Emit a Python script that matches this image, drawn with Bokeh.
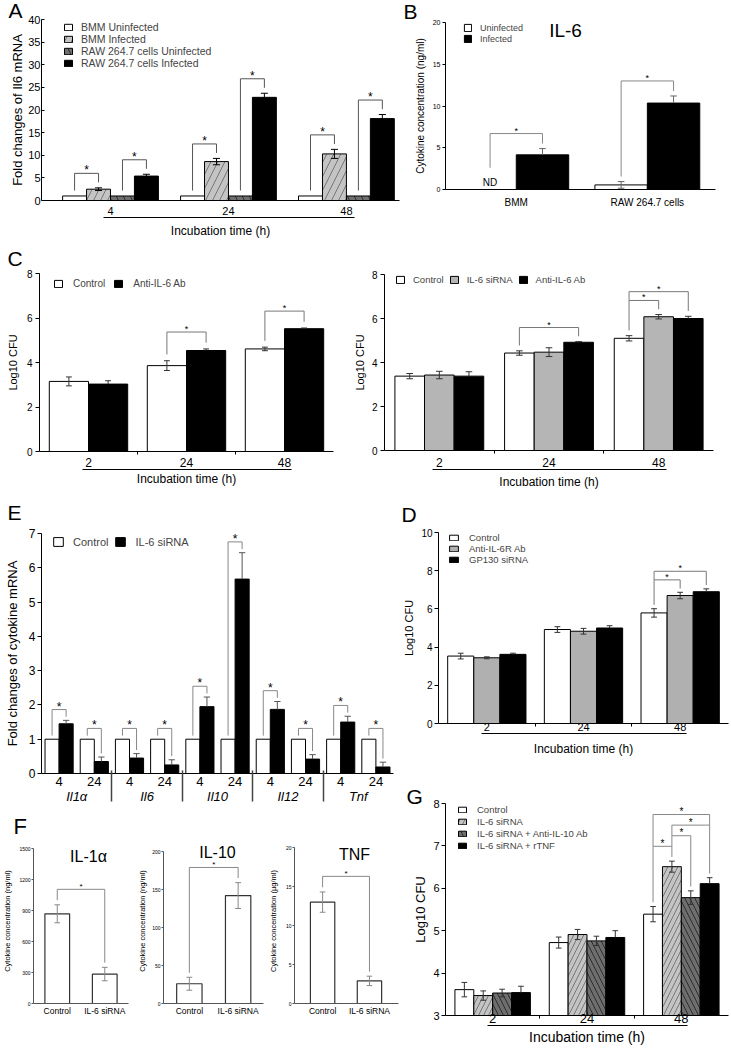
from bokeh.plotting import figure
from bokeh.models import Range1d, FixedTicker, LinearAxis, Legend, LegendItem, Label
from bokeh.layouts import row, column
from bokeh.embed import file_html
from bokeh.resources import INLINE
from bokeh.core.properties import value

FONT = "Liberation Sans"

# ---------------- data ----------------
# Panel A
A_times = ["4", "24", "48"]
A_labels = ["BMM Uninfected", "BMM Infected", "RAW 264.7 cells Uninfected", "RAW 264.7 cells Infected"]
A_bmm_uninf = [1.0, 1.0, 1.0]
A_bmm_inf = [2.5, 8.6, 10.3]
A_raw_uninf = [1.0, 1.0, 1.0]
A_raw_inf = [5.4, 22.8, 18.1]
A_bmm_uninf_err = [0, 0, 0]
A_bmm_inf_err = [0.3, 0.7, 1.0]
A_raw_uninf_err = [0, 0, 0]
A_raw_inf_err = [0.4, 0.9, 0.9]
A_sig = [(0, 0, 1), (0, 2, 3), (1, 0, 1), (1, 2, 3), (2, 0, 1), (2, 2, 3)]

# Panel B
B_cells = ["BMM", "RAW 264.7 cells"]
B_labels = ["Uninfected", "Infected"]
B_uninf = [0.0, 0.55]
B_inf = [4.15, 10.35]
B_uninf_err = [0, 0.4]
B_inf_err = [0.75, 0.85]
B_nd = [True, False]
B_sig = [(0, 0, 1), (1, 0, 1)]

# Panel C (left)
C_times = ["2", "24", "48"]
C1_labels = ["Control", "Anti-IL-6 Ab"]
C1_ctrl = [3.15, 3.86, 4.61]
C1_ab = [3.03, 4.54, 5.52]
C1_ctrl_err = [0.2, 0.22, 0.08]
C1_ab_err = [0.15, 0.07, 0.03]
C1_sig = [(1, 0, 1), (2, 0, 1)]

# Panel C (right)
C2_labels = ["Control", "IL-6 siRNA", "Anti-IL-6 Ab"]
C2_ctrl = [3.38, 4.43, 5.10]
C2_sirna = [3.43, 4.47, 6.08]
C2_ab = [3.38, 4.92, 6.00]
C2_ctrl_err = [0.12, 0.10, 0.12]
C2_sirna_err = [0.17, 0.20, 0.10]
C2_ab_err = [0.20, 0.03, 0.10]
C2_sig = [(1, 0, 2), (2, 0, 1), (2, 0, 2)]

# Panel E
E_genes = ["Il1α", "Il6", "Il10", "Il12", "Tnf"]
E_times = ["4", "24"]
E_labels = ["Control", "IL-6 siRNA"]
E_ctrl = [1.0, 1.0, 1.0, 1.0, 1.0, 1.0, 1.0, 1.0, 1.0, 1.0]
E_sirna = [1.45, 0.35, 0.45, 0.25, 1.95, 5.67, 1.87, 0.42, 1.50, 0.19]
E_ctrl_err = [0, 0, 0, 0, 0, 0, 0, 0, 0, 0]
E_sirna_err = [0.10, 0.13, 0.13, 0.15, 0.28, 0.77, 0.23, 0.13, 0.17, 0.14]
E_sig = [(k, 0, 1) for k in range(10)]

# Panel D
D_labels = ["Control", "Anti-IL-6R Ab", "GP130 siRNA"]
D_ctrl = [3.53, 4.92, 5.79]
D_ab = [3.44, 4.83, 6.70]
D_gp = [3.62, 5.00, 6.90]
D_ctrl_err = [0.15, 0.15, 0.22]
D_ab_err = [0.05, 0.15, 0.17]
D_gp_err = [0.06, 0.12, 0.15]
D_sig = [(2, 0, 1), (2, 0, 2)]

# Panel F
F_groups = ["Control", "IL-6 siRNA"]
F1_vals = [868, 285]
F1_err = [87, 65]
F2_vals = [26, 142]
F2_err = [8.5, 17]
F3_vals = [13.0, 2.9]
F3_err = [1.3, 0.6]
F_sig = [(0, 0, 1)]

# Panel G
G_labels = ["Control", "IL-6 siRNA", "IL-6 siRNA + Anti-IL-10 Ab", "IL-6 siRNA + rTNF"]
G_ctrl = [3.61, 4.72, 5.39]
G_sirna = [3.47, 4.91, 6.51]
G_ab10 = [3.53, 4.76, 5.78]
G_rtnf = [3.54, 4.84, 6.11]
G_ctrl_err = [0.17, 0.13, 0.18]
G_sirna_err = [0.11, 0.12, 0.13]
G_ab10_err = [0.09, 0.11, 0.16]
G_rtnf_err = [0.15, 0.16, 0.14]
G_sig = [(2, 0, 1), (2, 1, 2), (2, 1, 3), (2, 0, 3)]


# ---------------- helpers ----------------
def make_fig(w, h, L, R, T, B, xr, yr):
    p = figure(width=w, height=h, x_range=Range1d(*xr), y_range=Range1d(*yr),
               output_backend="svg", toolbar_location=None,
               min_border_left=L, min_border_right=R, min_border_top=T, min_border_bottom=B)
    try:
        p.frame_align = False
    except Exception:
        pass
    p.xgrid.visible = False
    p.ygrid.visible = False
    p.outline_line_color = None
    p.border_fill_color = "white"
    p.background_fill_color = "white"
    return p


def style_y(p, ticks, tick_px, label, label_px, tick_out=4, tick_in=0, standoff=2,
            lab_standoff=4, color="black"):
    ax = p.yaxis[0]
    ax.ticker = FixedTicker(ticks=ticks)
    ax.major_tick_out = tick_out
    ax.major_tick_in = tick_in
    ax.minor_tick_out = 0
    ax.minor_tick_in = 0
    ax.major_label_text_font = FONT
    ax.major_label_text_font_size = f"{tick_px}px"
    ax.major_label_text_color = "black"
    ax.major_label_standoff = standoff
    ax.axis_label = label
    ax.axis_label_text_font = FONT
    ax.axis_label_text_font_size = f"{label_px}px"
    ax.axis_label_text_font_style = "normal"
    ax.axis_label_text_color = "black"
    ax.axis_label_standoff = lab_standoff
    ax.axis_line_color = color
    ax.major_tick_line_color = color


def style_x(p, ticks, labels, tick_px, standoff=3, minor=None, minor_out=0,
            minor_color="black", color="black"):
    ax = p.xaxis[0]
    ax.ticker = FixedTicker(ticks=ticks, minor_ticks=minor or [])
    ax.major_label_overrides = {t: l for t, l in zip(ticks, labels)}
    ax.major_tick_out = 0
    ax.major_tick_in = 0
    ax.minor_tick_out = minor_out
    ax.minor_tick_in = 0
    ax.minor_tick_line_color = minor_color
    ax.major_label_text_font = FONT
    ax.major_label_text_font_size = f"{tick_px}px"
    ax.major_label_text_color = "black"
    ax.major_label_standoff = standoff
    ax.axis_line_color = color


def add_title_axis(p, text, px, standoff, bounds=(-0.06, 2.07)):
    ax = LinearAxis(bounds=bounds, ticker=FixedTicker(ticks=[]), axis_label=text)
    ax.major_tick_out = 0
    ax.major_tick_in = 0
    ax.minor_tick_out = 0
    ax.minor_tick_in = 0
    ax.major_label_standoff = 0
    ax.axis_label_text_font = FONT
    ax.axis_label_text_font_size = f"{px}px"
    ax.axis_label_text_font_style = "normal"
    ax.axis_label_text_color = "black"
    ax.axis_label_standoff = standoff
    ax.axis_line_color = "black"
    p.add_layout(ax, "below")


def grouped_bars(p, series, errs, styles, w, bottom=0, err_color="black", cap=0.03, err_width=1):
    n = len(series)
    xpos, caps, rends = [], [], []
    ex0, ey0, ex1, ey1 = [], [], [], []
    for i, (vals, es, st) in enumerate(zip(series, errs, styles)):
        xs = [g + (i - (n - 1) / 2) * w for g in range(len(vals))]
        r = p.vbar(x=xs, top=vals, bottom=bottom, width=w, **st)
        rends.append(r)
        xpos.append(xs)
        caps.append([v + e for v, e in zip(vals, es)])
        lower = st.get("fill_color") != "black"
        for x, v, e in zip(xs, vals, es):
            if e > 0:
                ex0 += [x, x - cap]
                ex1 += [x, x + cap]
                ey0 += [v - e if lower else v, v + e]
                ey1 += [v + e, v + e]
                if lower:
                    ex0.append(x - cap)
                    ex1.append(x + cap)
                    ey0.append(v - e)
                    ey1.append(v - e)
    p.segment(x0=ex0, y0=ey0, x1=ex1, y1=ey1, line_color=err_color, line_width=err_width)
    return rends, xpos, caps


def brackets(p, sig, xpos, caps, yr, gap_f, pad_f, color="#777777", star_px=11, lw=1):
    span = yr[1] - yr[0]
    gap, pad = gap_f * span, pad_f * span
    occ = {}
    xs, ys, sx, sy = [], [], [], []
    for g, i, j in sig:
        for k in range(i, j + 1):
            occ.setdefault((g, k), caps[k][g] + pad)
        top = max(occ[(g, k)] for k in range(i, j + 1)) + gap
        x0, x1 = xpos[i][g], xpos[j][g]
        xs.append([x0, x0, x1, x1])
        ys.append([occ[(g, i)], top, top, occ[(g, j)]])
        sx.append((x0 + x1) / 2)
        sy.append(top)
        for k in range(i, j + 1):
            occ[(g, k)] = top
    p.multi_line(xs, ys, line_color=color, line_width=lw)
    p.text(x=sx, y=sy, text=["*"] * len(sx), text_align="center", text_baseline="middle",
           y_offset=-3, text_font=value(FONT), text_font_size=f"{star_px}px", text_color="black")


def add_legend(p, items, frame_h, x_off, y_off, orientation, font_px, gw, gh, lh, standoff, spacing=0):
    n_rows = len(items) if orientation == "vertical" else 1
    leg_h = n_rows * lh + (n_rows - 1) * spacing
    leg = Legend(items=[LegendItem(label=l, renderers=[r]) for l, r in items],
                 location=(x_off, frame_h - y_off - leg_h), orientation=orientation,
                 padding=0, margin=0, spacing=spacing, glyph_width=gw, glyph_height=gh,
                 label_height=lh, label_width=0, label_standoff=standoff,
                 label_text_font=FONT, label_text_font_size=f"{font_px}px",
                 label_text_baseline="middle", border_line_color=None, background_fill_alpha=0)
    p.add_layout(leg)


def text_label(p, text, x, y, px, align="left", baseline="top"):
    p.add_layout(Label(x=x, y=y, x_units="screen", y_units="screen", text=text,
                       text_font=FONT, text_font_size=f"{px}px",
                       text_baseline=baseline, text_align=align, text_color="black"))


def letter(p, text, offset, standoff, px=21):
    p.title.text = text
    p.title.align = "left"
    p.title.vertical_align = "middle"
    p.title.offset = offset
    p.title.standoff = standoff
    p.title.text_font = FONT
    p.title.text_font_size = f"{px}px"
    p.title.text_font_style = "normal"
    p.title.text_color = "black"


WHITE = dict(fill_color="white", line_color="black", line_width=1)
BLACK = dict(fill_color="black", line_color="black", line_width=1)


def gray(c):
    return dict(fill_color=c, line_color="black", line_width=1)


def hatch(c, pat, hc, scale):
    return dict(fill_color=c, line_color="black", line_width=1, hatch_pattern=pat,
                hatch_color=hc, hatch_weight=0.7, hatch_scale=scale)


# ---------------- Panel A ----------------
A_w, A_h, A_L, A_R, A_T, A_B = 402, 240, 41, 3, 19, 40
A_yr = (0, 40)
pA = make_fig(A_w, A_h, A_L, A_R, A_T, A_B, (-0.585, 2.45), A_yr)
style_y(pA, list(range(0, 41, 5)), 11, "Fold changes of Il6 mRNA", 13, tick_out=0, tick_in=3,
        standoff=1, lab_standoff=0)
style_x(pA, [0, 1, 2], A_times, 11, standoff=6)
add_title_axis(pA, "Incubation time (h)", 12, 6)
rA, xA, cA = grouped_bars(pA, [A_bmm_uninf, A_bmm_inf, A_raw_uninf, A_raw_inf],
                          [A_bmm_uninf_err, A_bmm_inf_err, A_raw_uninf_err, A_raw_inf_err],
                          [WHITE, hatch("#c4c4c4", "/", "#555555", 14),
                           hatch("#707070", "\\", "#111111", 14), BLACK],
                          0.203, cap=0.03)
brackets(pA, A_sig, xA, cA, A_yr, 0.05, 0.03, color="#555555", star_px=12)
add_legend(pA, list(zip(A_labels, rA)), A_h - A_T - A_B, 22, 2, "vertical", 10.5, 10, 8, 12, 8)
letter(pA, "A", -33, -6.5)

# ---------------- Panel B ----------------
B_w, B_h, B_L, B_R, B_T, B_B = 328, 240, 43, 15, 22, 51
B_yr = (0, 20)
pB = make_fig(B_w, B_h, B_L, B_R, B_T, B_B, (-0.54, 1.52), B_yr)
style_y(pB, [0, 5, 10, 15, 20], 7, "Cytokine concentration (ng/ml)", 10, tick_out=3,
        standoff=2, lab_standoff=4)
style_x(pB, [0, 1], B_cells, 10, standoff=7)
rB, xB, cB = grouped_bars(pB, [B_uninf, B_inf], [B_uninf_err, B_inf_err], [WHITE, BLACK],
                          0.4, err_color="#666666", cap=0.025)
for g, nd in enumerate(B_nd):
    if nd:
        cB[0][g] = 0.1 * (B_yr[1] - B_yr[0])
nd_x = [xB[0][g] for g, nd in enumerate(B_nd) if nd]
pB.text(x=nd_x, y=[0] * len(nd_x), text=["ND"] * len(nd_x), text_align="center",
        text_baseline="bottom", y_offset=-2, text_font=value(FONT), text_font_size="10px",
        text_color="black")
brackets(pB, B_sig, xB, cB, B_yr, 0.06, 0.03, color="#888888", star_px=9)
add_legend(pB, list(zip(B_labels, rB)), B_h - B_T - B_B, 18, 0, "vertical", 9, 9, 9, 11, 8)
text_label(pB, "IL-6", 120, 159, 19, align="center", baseline="middle")
letter(pB, "B", -42, -3.5)

# ---------------- Panel C left ----------------
C1_w, C1_h, C1_L, C1_R, C1_T, C1_B = 345, 251, 39, 12, 33, 40
C_yr = (0, 8)
pC1 = make_fig(C1_w, C1_h, C1_L, C1_R, C1_T, C1_B, (-0.5, 2.5), C_yr)
style_y(pC1, [0, 2, 4, 6, 8], 10, "Log10 CFU", 11, tick_out=4, standoff=3, lab_standoff=5)
style_x(pC1, [0, 1, 2], C_times, 12, standoff=3, minor=[0.5, 1.5], minor_out=3)
add_title_axis(pC1, "Incubation time (h)", 12, 2)
rC1, xC1, cC1 = grouped_bars(pC1, [C1_ctrl, C1_ab], [C1_ctrl_err, C1_ab_err], [WHITE, BLACK],
                             0.4, err_color="#333333", cap=0.03)
brackets(pC1, C1_sig, xC1, cC1, C_yr, 0.06, 0.035, color="#777777", star_px=9)
add_legend(pC1, list(zip(C1_labels, rC1)), C1_h - C1_T - C1_B, 14, 4, "horizontal", 10, 10, 9, 12, 10, 8)
letter(pC1, "C", -32, 5)

# ---------------- Panel C right ----------------
C2_w, C2_h, C2_L, C2_R, C2_T, C2_B = 385, 251, 39, 17, 34, 38
pC2 = make_fig(C2_w, C2_h, C2_L, C2_R, C2_T, C2_B, (-0.5, 2.5), C_yr)
style_y(pC2, [0, 2, 4, 6, 8], 10, "Log10 CFU", 11, tick_out=4, standoff=3, lab_standoff=3)
style_x(pC2, [0, 1, 2], C_times, 12, standoff=4, minor=[0.5, 1.5], minor_out=3)
add_title_axis(pC2, "Incubation time (h)", 12, 5)
rC2, xC2, cC2 = grouped_bars(pC2, [C2_ctrl, C2_sirna, C2_ab], [C2_ctrl_err, C2_sirna_err, C2_ab_err],
                             [WHITE, gray("#b5b5b5"), BLACK], 0.27, err_color="#333333", cap=0.03)
brackets(pC2, C2_sig, xC2, cC2, C_yr, 0.05, 0.03, color="#777777", star_px=9)
add_legend(pC2, list(zip(C2_labels, rC2)), C2_h - C2_T - C2_B, 11, 2, "horizontal", 9.5, 10, 9, 12, 8, 5)

# ---------------- Panel E ----------------
E_w, E_h, E_L, E_R, E_T, E_B = 400, 317, 41, 7, 42, 35
E_yr = (0, 7)
pE = make_fig(E_w, E_h, E_L, E_R, E_T, E_B, (-0.5, 9.5), E_yr)
style_y(pE, list(range(0, 8)), 12, "Fold changes of cytokine mRNA", 13, tick_out=4,
        standoff=2, lab_standoff=6)
E_ticks = list(range(10))
style_x(pE, E_ticks, [E_times[k % 2] for k in E_ticks], 13, standoff=3)
gene_pos = [0.5, 2.5, 4.5, 6.5, 8.5]
gene_ax = LinearAxis(ticker=FixedTicker(ticks=gene_pos, minor_ticks=[1.5, 3.5, 5.5, 7.5]))
gene_ax.major_label_overrides = {t: gname for t, gname in zip(gene_pos, E_genes)}
gene_ax.axis_line_color = None
gene_ax.major_tick_out = 0
gene_ax.major_tick_in = 0
gene_ax.minor_tick_out = 13
gene_ax.minor_tick_in = 18
gene_ax.minor_tick_line_color = "#444444"
gene_ax.minor_tick_line_width = 1.5
gene_ax.major_label_standoff = -13
gene_ax.major_label_text_font = FONT
gene_ax.major_label_text_font_size = "13px"
gene_ax.major_label_text_font_style = "italic"
gene_ax.major_label_text_color = "black"
pE.add_layout(gene_ax, "below")
rE, xE, cE = grouped_bars(pE, [E_ctrl, E_sirna], [E_ctrl_err, E_sirna_err], [WHITE, BLACK],
                          0.4, err_color="#555555", cap=0.09)
brackets(pE, E_sig, xE, cE, E_yr, 0.03, 0.015, color="#888888", star_px=12)
add_legend(pE, list(zip(E_labels, rE)), E_h - E_T - E_B, 11, 2, "horizontal", 11, 12, 11, 13, 9, 6)
letter(pE, "E", -34, 16.5)

# ---------------- Panel F ----------------
F_top = 808          # page y where the F row starts
F_bottom_axis = 1003  # page y of the x axis
F_frame_top = 838    # frame extends a bit above the y axis so the titles are not clipped


def f_panel(w, L, R, axis_top, xr, ymax, ticks, vals, errs, ylabel, lab_standoff, title, tx, t_center):
    h = 1048 - F_top
    T = F_frame_top - F_top
    B = 1048 - F_bottom_axis
    axis_px = F_bottom_axis - axis_top
    yr = (0, ymax + ymax * (axis_top - F_frame_top) / axis_px)
    p = make_fig(w, h, L, R, T, B, xr, yr)
    style_y(p, ticks, 5, ylabel, 7.5, tick_out=2, standoff=1, lab_standoff=lab_standoff,
            color="#555555")
    p.yaxis[0].bounds = (0, ymax)
    style_x(p, [0, 1], F_groups, 8.5, standoff=2, color="#555555")
    r, xp, cp = grouped_bars(p, [vals], [errs], [dict(fill_color="white", line_color="#333333",
                                                      line_width=1.2)],
                             0.52, err_color="#888888", cap=0.06)
    xs2 = [[xp[0][0]], [xp[0][1]]]
    cs2 = [[cp[0][0]], [cp[0][1]]]
    brackets(p, F_sig, xs2, cs2, (0, ymax), 0.07, 0.03, color="#888888", star_px=8)
    text_label(p, title, tx, F_bottom_axis - t_center, 16, align="center", baseline="middle")
    return p


pF1 = f_panel(135, 28, 7, 848, (-0.5, 1.5), 1500, [0, 300, 600, 900, 1200, 1500],
              F1_vals, F1_err, "Cytokine concentration (ng/ml)", 4, "IL-1α", 55, 856)
letter(pF1, "F", -20, -2.6, px=22)
pF2 = f_panel(130, 23, 2, 851, (-0.53, 1.52), 200, [0, 50, 100, 150, 200],
              F2_vals, F2_err, "Cytokine concentration (ng/ml)", 2, "IL-10", 54, 852)
pF3 = f_panel(135, 22, 2, 847, (-0.6, 1.62), 20, [0, 5, 10, 15, 20],
              F3_vals, F3_err, "Cytokine concentration (µg/ml)", 5, "TNF", 60, 854)

# ---------------- Panel D ----------------
D_w, D_h, D_L, D_R, D_T, D_B = 330, 284, 38, 2, 41, 52
D_yr = (0, 10)
pD = make_fig(D_w, D_h, D_L, D_R, D_T, D_B, (-0.5, 2.5), D_yr)
style_y(pD, [0, 2, 4, 6, 8, 10], 10, "Log10 CFU", 11, tick_out=4, standoff=2, lab_standoff=3)
style_x(pD, [0, 1, 2], C_times, 11, standoff=-4, minor=[0.5, 1.5], minor_out=3)
add_title_axis(pD, "Incubation time (h)", 12, 8)
rD, xD, cD = grouped_bars(pD, [D_ctrl, D_ab, D_gp], [D_ctrl_err, D_ab_err, D_gp_err],
                          [WHITE, gray("#b0b0b0"), BLACK], 0.27, err_color="#333333", cap=0.03)
brackets(pD, D_sig, xD, cD, D_yr, 0.045, 0.02, color="#777777", star_px=9)
add_legend(pD, list(zip(D_labels, rD)), D_h - D_T - D_B, 10, 3, "vertical", 9.5, 11, 7, 10, 10)
letter(pD, "D", -37, 11)

# ---------------- Panel G ----------------
G_w, G_h, G_L, G_R, G_T, G_B = 330, 273, 45, 2, 28, 33
G_yr = (3, 8)
pG = make_fig(G_w, G_h, G_L, G_R, G_T, G_B, (-0.5, 2.5), G_yr)
style_y(pG, [3, 4, 5, 6, 7, 8], 11, "Log10 CFU", 13, tick_out=4, standoff=2, lab_standoff=2)
style_x(pG, [0, 1, 2], C_times, 13, standoff=-5, minor=[0.5, 1.5], minor_out=3)
add_title_axis(pG, "Incubation time (h)", 14, 3)
rG, xG, cG = grouped_bars(pG, [G_ctrl, G_sirna, G_ab10, G_rtnf],
                          [G_ctrl_err, G_sirna_err, G_ab10_err, G_rtnf_err],
                          [WHITE, hatch("#c4c4c4", "/", "#555555", 10),
                           hatch("#6e6e6e", "\\", "#111111", 10), BLACK],
                          0.2, bottom=G_yr[0], err_color="#333333", cap=0.03)
brackets(pG, G_sig, xG, cG, G_yr, 0.05, 0.02, color="#888888", star_px=10)
add_legend(pG, list(zip(G_labels, rG)), G_h - G_T - G_B, 12, 0, "vertical", 9.5, 10, 7, 12, 10)
letter(pG, "G", -39, -11)

# ---------------- layout ----------------
layout = column(
    row(pA, pB),
    row(pC1, pC2),
    row(column(pE, row(pF1, pF2, pF3)), column(pD, pG)),
)

open("out.html", "w").write(file_html(layout, INLINE, title="IL-6 figure"))
